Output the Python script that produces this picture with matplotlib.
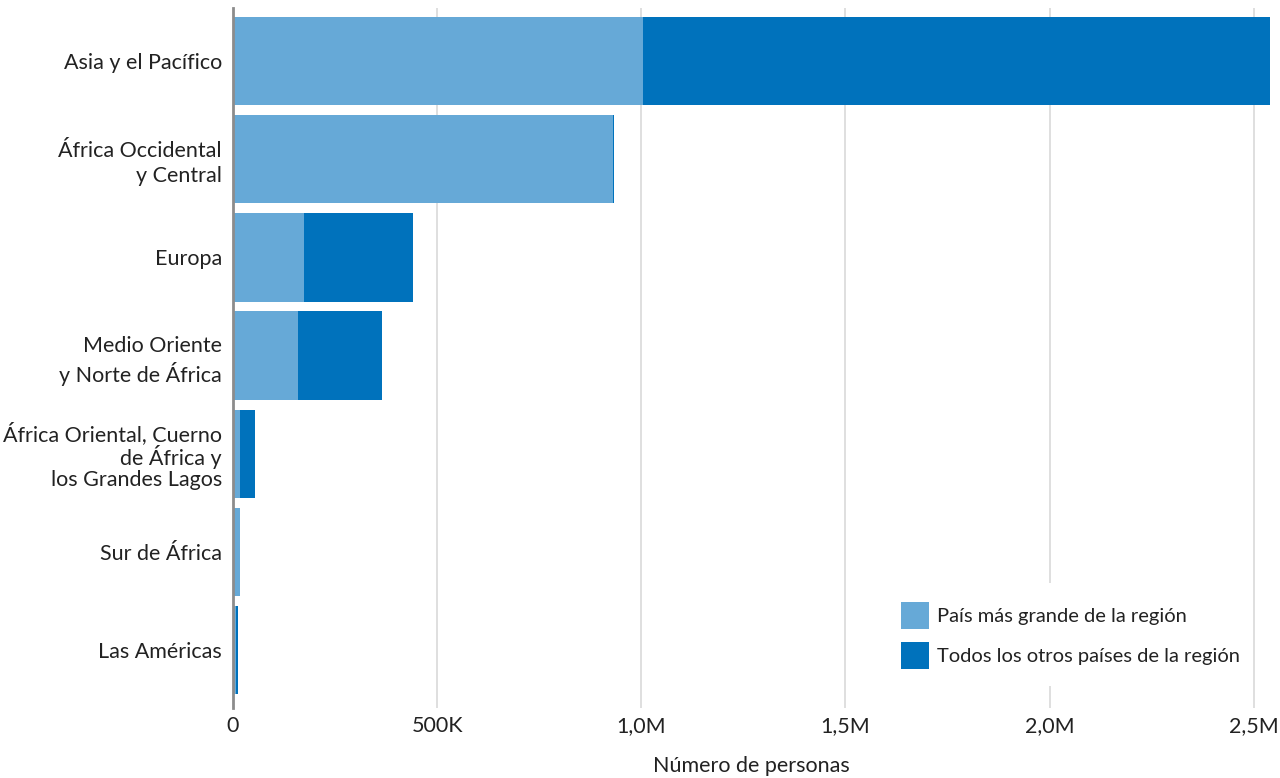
import numpy as np
import matplotlib.pyplot as plt
from matplotlib.patches import Rectangle
from matplotlib.ticker import FuncFormatter

plt.rcParams['font.family'] = ['Lato', 'DejaVu Sans']

regions = ['Asia y el Pacífico', 'África Occidental\ny Central', 'Europa',
           'Medio Oriente\ny Norte de África',
           'África Oriental, Cuerno\nde África y\nlos Grandes Lagos',
           'Sur de África', 'Las Américas']
largest = [1004000, 930000, 173000, 160000, 18000, 16000, 8000]   # país más grande
others = [1560000, 2500, 269000, 204000, 37000, 0, 5000]          # resto de países

c_light = '#66a9d7'
c_dark = '#0072bc'
txt = '#222222'

fig = plt.figure(figsize=(12.8, 7.78), dpi=100)
ax = fig.add_axes([233/1280, 1-708/778, (1270-233)/1280, 700/778])

y = np.arange(len(regions))
ax.barh(y, largest, height=0.9, color=c_light, label='País más grande de la región', zorder=2)
ax.barh(y, others, left=largest, height=0.9, color=c_dark, label='Todos los otros países de la región', zorder=2)

ax.set_ylim(6.59, -0.54)
ax.set_xlim(0, 2540000)
ax.set_yticks(y)
labels = ax.set_yticklabels(regions, fontsize=15.5, color=txt, linespacing=1.32)
labels[4].set_linespacing(1.02)
ax.set_xticks([0, 500000, 1000000, 1500000, 2000000, 2500000])
ax.xaxis.set_major_formatter(FuncFormatter(
    lambda v, p: '0' if v == 0 else ('%dK' % (v/1000) if v < 1e6 else ('%.1fM' % (v/1e6)).replace('.', ','))))
ax.tick_params(axis='x', labelsize=15.5, colors=txt, length=0, pad=6)
ax.tick_params(axis='y', length=0, pad=8)
ax.grid(axis='x', color='#d9d9d9', linewidth=1.2, zorder=0)
for s in ['top', 'right', 'bottom']:
    ax.spines[s].set_visible(False)
ax.spines['left'].set_color('#8c8c8c')
ax.spines['left'].set_linewidth(2)
ax.spines['left'].set_zorder(3)
ax.set_xlabel('Número de personas', fontsize=15.5, color=txt, labelpad=14)

# white box behind legend, hiding the grid lines
fig.patches.append(Rectangle((884/1280, 1-686/778), (1251-884)/1280, 103/778,
                             transform=fig.transFigure, facecolor='white',
                             edgecolor='none', zorder=1))
ax.set_zorder(0)
ax.patch.set_visible(False)
leg = fig.legend(*ax.get_legend_handles_labels(), loc='lower left',
                 bbox_to_anchor=(901/1280, 1-669/778), bbox_transform=fig.transFigure,
                 fontsize=14.5, frameon=False, borderpad=0, borderaxespad=0,
                 handlelength=1.4, handleheight=1.7, handletextpad=0.4, labelspacing=0.65,
                 labelcolor=txt)

fig.savefig('out.png', dpi=100)
